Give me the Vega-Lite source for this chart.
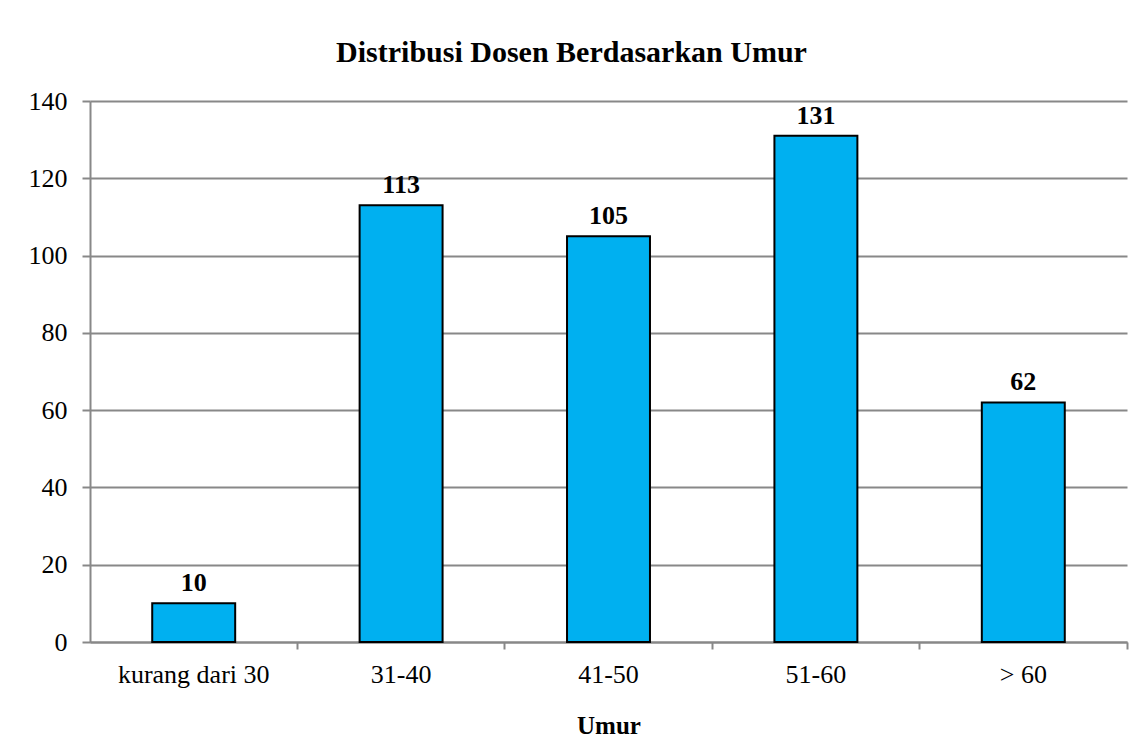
{
  "$schema": "https://vega.github.io/schema/vega-lite/v6.json",
  "width": 1037,
  "height": 541,
  "autosize": {"type": "none"},
  "padding": {"left": 90, "top": 101, "right": 15, "bottom": 107},
  "background": "white",
  "config": {
    "font": "Liberation Serif",
    "view": {"stroke": null}
  },
  "title": {
    "text": "Distribusi Dosen Berdasarkan Umur",
    "font": "Liberation Serif",
    "fontSize": 30,
    "fontWeight": "bold",
    "color": "black",
    "anchor": "middle",
    "frame": "group",
    "dx": -37,
    "offset": 20
  },
  "data": {
    "values": [
      {"umur": "kurang dari 30", "jumlah": 10},
      {"umur": "31-40", "jumlah": 113},
      {"umur": "41-50", "jumlah": 105},
      {"umur": "51-60", "jumlah": 131},
      {"umur": "> 60", "jumlah": 62}
    ]
  },
  "encoding": {
    "x": {
      "field": "umur",
      "type": "nominal",
      "sort": null,
      "scale": {"paddingInner": 0.6, "paddingOuter": 0.3},
      "axis": {
        "title": "Umur",
        "titleFont": "Liberation Serif",
        "titleFontSize": 25,
        "titleFontWeight": "bold",
        "titleColor": "black",
        "titlePadding": 26,
        "labelFont": "Liberation Serif",
        "labelFontSize": 26,
        "labelColor": "black",
        "labelAngle": 0,
        "labelPadding": 12,
        "bandPosition": 1.75,
        "tickSize": 7,
        "tickColor": "#888888",
        "tickWidth": 2,
        "domainColor": "#888888",
        "domainWidth": 2,
        "grid": false
      }
    },
    "y": {
      "field": "jumlah",
      "type": "quantitative",
      "scale": {"domain": [0, 140]},
      "axis": {
        "title": null,
        "values": [0, 20, 40, 60, 80, 100, 120, 140],
        "labelFont": "Liberation Serif",
        "labelFontSize": 26,
        "labelColor": "black",
        "labelPadding": 15,
        "tickSize": 8,
        "tickColor": "#888888",
        "tickWidth": 2,
        "domainColor": "#888888",
        "domainWidth": 2,
        "grid": true,
        "gridColor": "#888888",
        "gridWidth": 2
      }
    }
  },
  "layer": [
    {
      "mark": {"type": "bar", "color": "#00B0F0", "stroke": "black", "strokeWidth": 2}
    },
    {
      "mark": {"type": "text", "fontSize": 26, "fontWeight": "bold", "font": "Liberation Serif", "color": "black", "baseline": "alphabetic", "dy": -12},
      "encoding": {"text": {"field": "jumlah", "type": "quantitative"}}
    }
  ]
}
